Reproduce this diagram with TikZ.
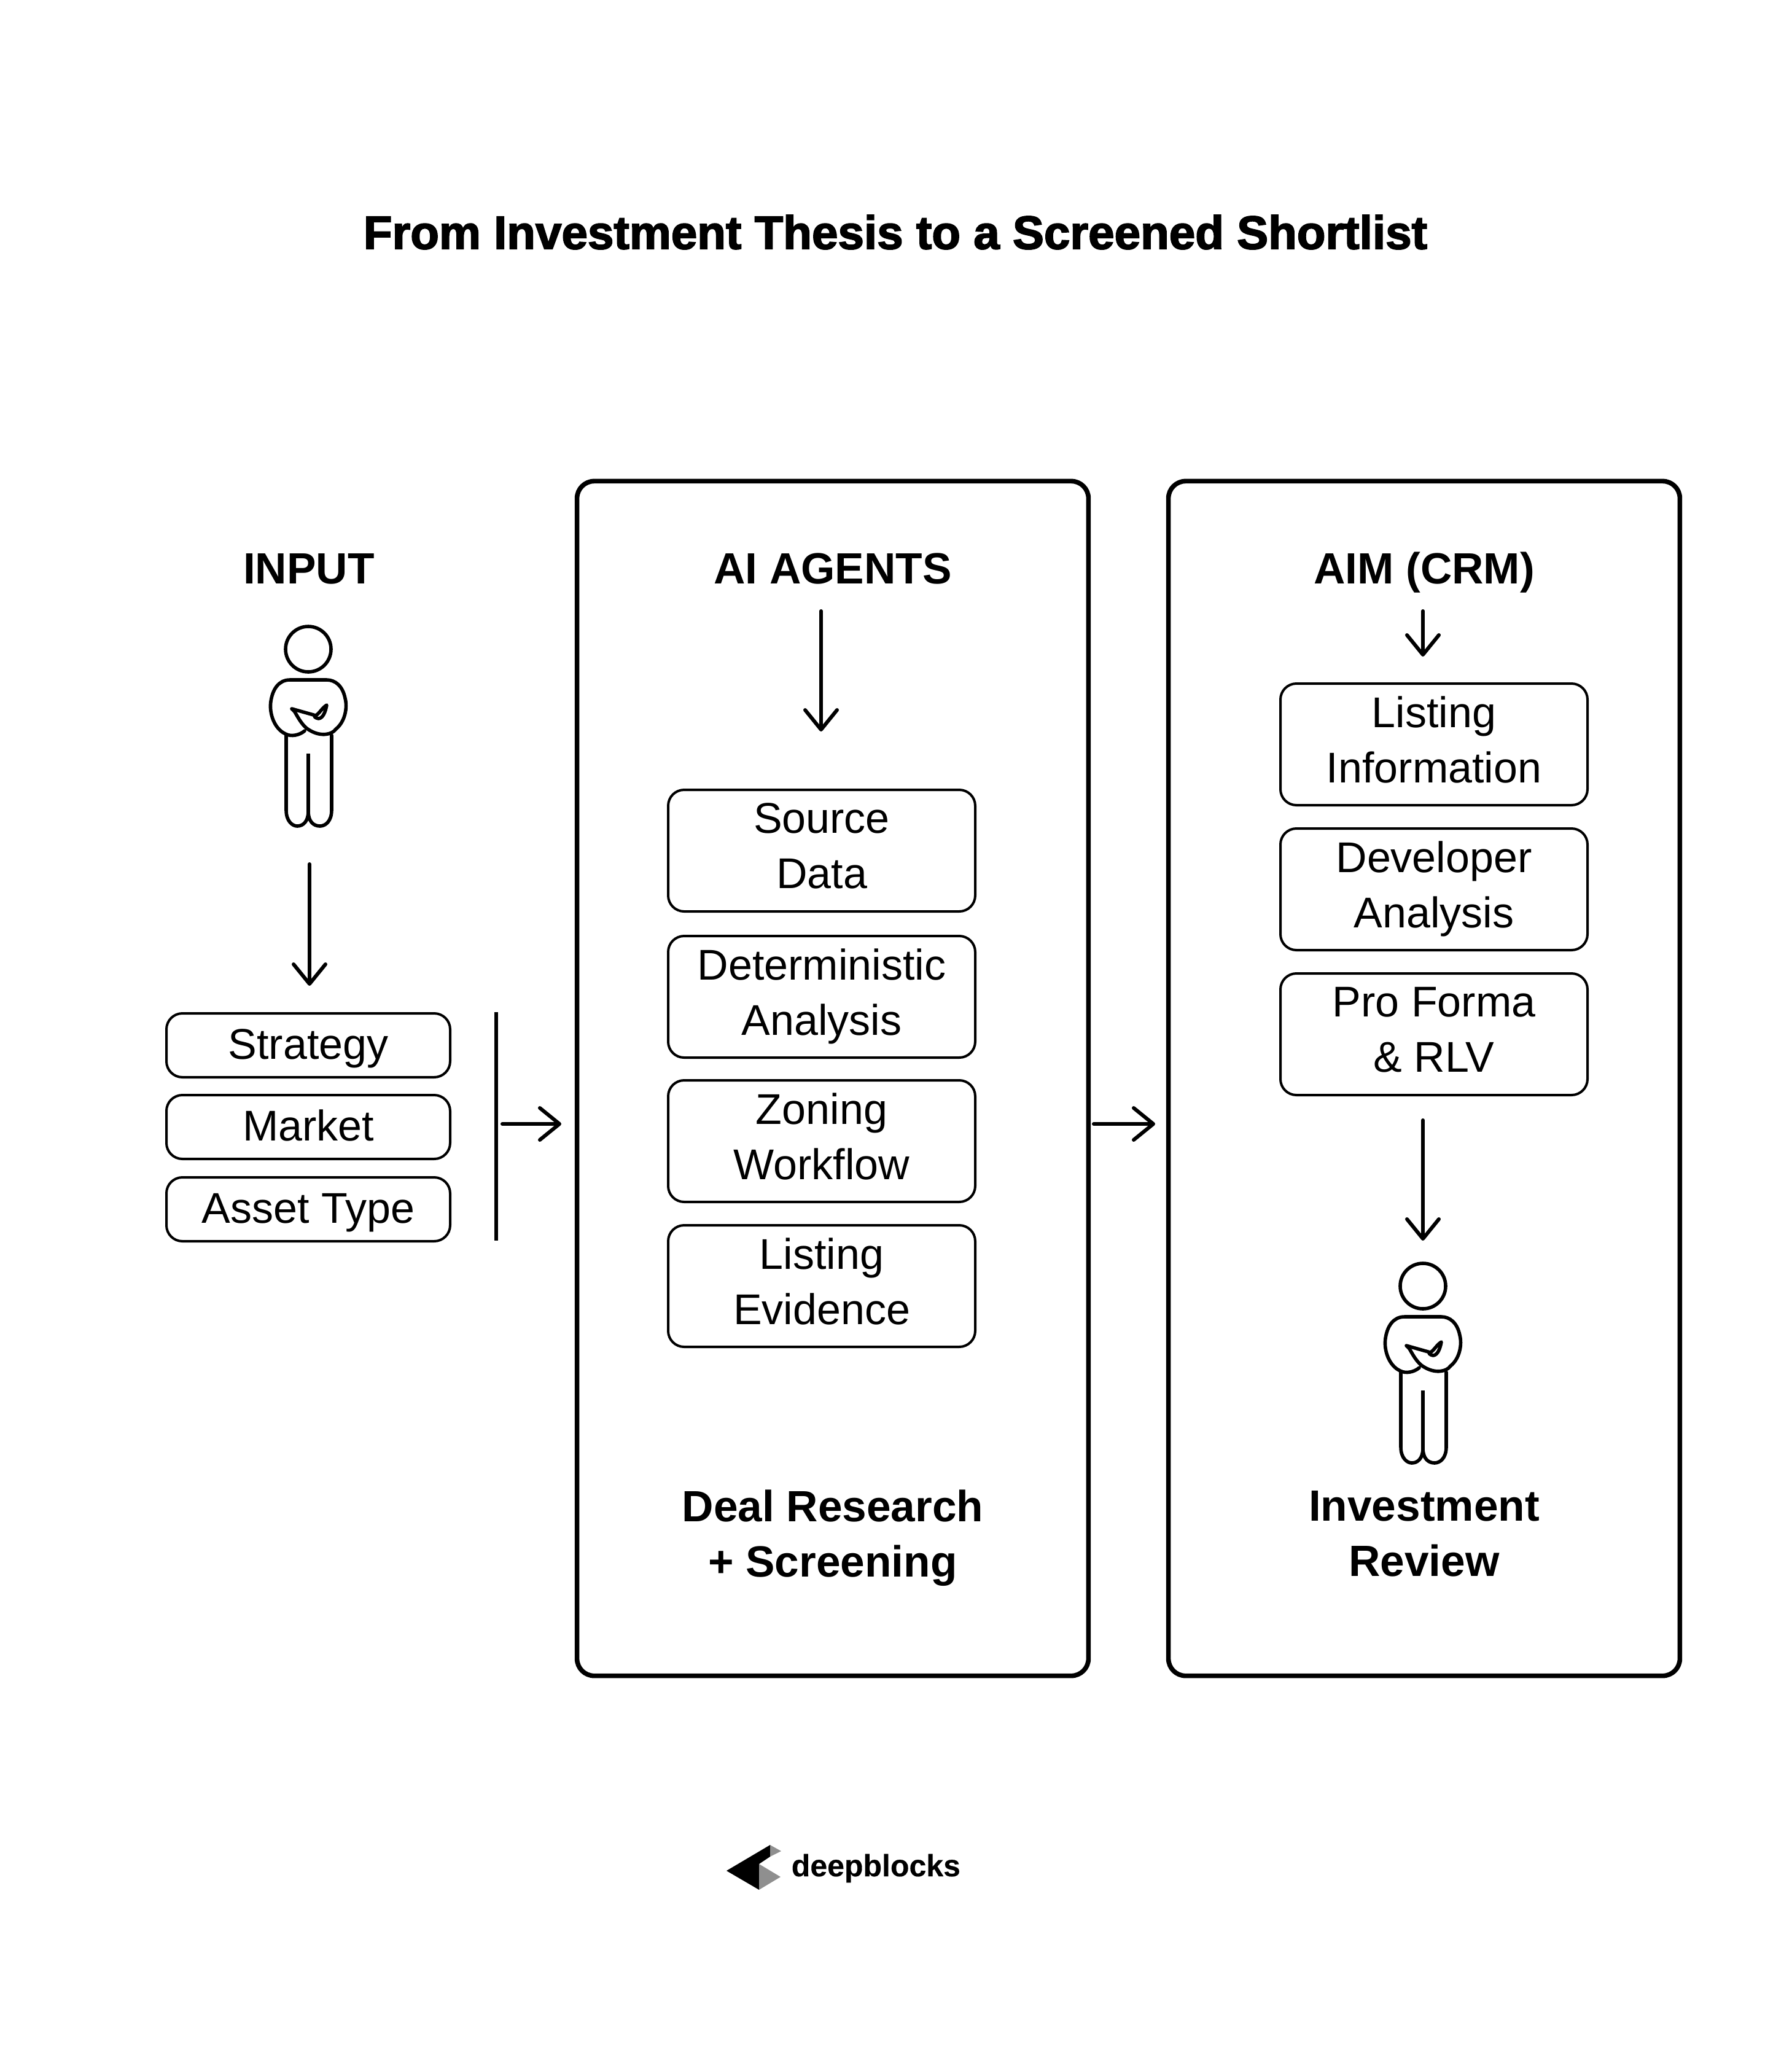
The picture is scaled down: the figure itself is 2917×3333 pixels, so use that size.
\documentclass[tikz,border=0pt]{standalone}
\usepackage{fontspec}
\setmainfont{Liberation Sans}
\newfontfamily\titlefont[FakeBold=2.4]{Liberation Sans Bold}
\newfontfamily\logofont[FakeBold=0.3]{Liberation Sans Bold}
\usetikzlibrary{positioning}
\usetikzlibrary{arrows.meta}
\definecolor{logogray}{rgb}{0.56, 0.56, 0.56}
\tikzset{
  evenline/.style={execute at begin node={\rule{0pt}{15pt}},execute at end node={\rule[-4pt]{0pt}{4pt}}},
  panelbox/.style={draw,line width=1.9pt,rounded corners=7pt,minimum width=208.2pt,minimum height=486.3pt,inner sep=0pt},
  itembox/.style={draw,line width=1pt,rounded corners=6.5pt,minimum width=125pt,minimum height=49.5pt,align=center,font=\fontsize{17.5}{22.5}\selectfont,inner sep=0pt,evenline},
  smallbox/.style={draw,line width=1pt,rounded corners=6.5pt,minimum width=115.5pt,minimum height=26pt,font=\fontsize{17.5}{22.5}\selectfont,inner sep=0pt,evenline},
  headlabel/.style={font=\fontsize{17.8}{22.5}\selectfont\bfseries,align=center,inner sep=0pt,evenline},
  flowarrow/.style={line width=1.5pt,line cap=round,-{Straight Barb[length=8pt,width=13pt,line width=1.5pt,round]}},
  person/.pic={
    \draw[line width=1.4pt] (0,0) circle[radius=37];
    \draw[line width=1.4pt,line join=round,line cap=round]
      (-22,102) .. controls (-12,120) and (-6,128) .. (4,133) .. controls (20,142) and (38,140) .. (45,130)
      .. controls (60,118) and (64,95) .. (60,80) .. controls (56,60) and (44,50) .. (30,50)
      -- (-30,50) .. controls (-48,50) and (-58,65) .. (-61,85) .. controls (-64,105) and (-55,130) .. (-37,138)
      .. controls (-28,143) and (-14,140) .. (-6,133);
    \draw[line width=1.4pt,line join=round,line cap=round]
      (-27,97) -- (12,108) .. controls (18,105) and (22,96) .. (30,91) .. controls (28,102) and (24,112) .. (17,113)
      .. controls (10,112) and (8,108) .. (12,108);
    \draw[line width=1.4pt,line join=round] (-27,97) -- (-22,102);
    \draw[line width=1.4pt,line cap=round]
      (-36,140) -- (-36,262) .. controls (-36,280) and (-26,288) .. (-18,288) .. controls (-8,288) and (0,280) .. (0,264)
      .. controls (0,280) and (8,288) .. (19,288) .. controls (28,288) and (38,280) .. (38,262) -- (38,140);
    \draw[line width=1.4pt] (0,170) -- (0,264);
  }
}

\begin{document}
\begin{tikzpicture}[x=0.25pt,y=-0.25pt]
\useasboundingbox (0,0) rectangle (2917,3333);

% title
\node[font=\titlefont\fontsize{19.1}{22}\selectfont,inner sep=0pt] (title) at (1458,378) {From Investment Thesis to a Screened Shortlist};

% panels
\node[panelbox] (aipanel) at (1356,1756) {};
\node[panelbox] (aimpanel) at (2319,1756) {};

% input column
\node[headlabel] (inputlabel) at (503,928) {INPUT};
\pic at (502,1057) {person};
\coordinate (inputtop) at (504,1407);
\coordinate (inputend) at (504,1605);
\draw[flowarrow] (inputtop) -- (inputend);
\node[smallbox] (strategy) at (502,1702) {Strategy};
\node[smallbox] (market) at (502,1835) {Market};
\node[smallbox] (assettype) at (502,1969) {Asset Type};
\coordinate (bartop) at (808,1648);
\coordinate (barbottom) at (808,2020);
\draw[line width=1.5pt] (bartop) -- (barbottom);
\coordinate (barout) at (818,1830);
\coordinate (barend) at (914,1830);
\draw[flowarrow] (barout) -- (barend);

% ai column
\node[headlabel] (ailabel) at (1356,928) {AI AGENTS};
\coordinate (aitop) at (1337,995);
\coordinate (aiend) at (1337,1191);
\draw[flowarrow] (aitop) -- (aiend);
\node[itembox] (source) at (1338,1385) {Source\\Data};
\node[itembox] (determ) at (1338,1623) {Deterministic\\Analysis};
\node[itembox] (zoning) at (1338,1858) {Zoning\\Workflow};
\node[itembox] (listing) at (1338,2094) {Listing\\Evidence};
\node[headlabel] (deallabel) at (1356,2505) {Deal Research\\+ Screening};

% link between panels
\coordinate (midout) at (1781,1830);
\coordinate (midend) at (1881,1830);
\draw[flowarrow] (midout) -- (midend);

% aim column
\node[headlabel] (aimlabel) at (2319,928) {AIM (CRM)};
\coordinate (aimtop) at (2317,995);
\coordinate (aimend) at (2317,1069);
\draw[flowarrow] (aimtop) -- (aimend);
\node[itembox] (listinfo) at (2335,1212) {Listing\\Information};
\node[itembox] (devel) at (2335,1448) {Developer\\Analysis};
\node[itembox] (proforma) at (2335,1684) {Pro Forma\\\& RLV};
\coordinate (reviewtop) at (2317,1824);
\coordinate (reviewend) at (2317,2020);
\draw[flowarrow] (reviewtop) -- (reviewend);
\pic at (2317,2094) {person};
\node[headlabel] (reviewlabel) at (2319,2505) {Investment\\Review};

% logo
\fill (1183,3046) -- (1254,3004) -- (1254,3023) -- (1236,3035) -- (1236,3077) -- cycle;
\fill[logogray] (1254,3004) -- (1272,3014) -- (1254,3023) -- cycle;
\fill[logogray] (1236,3035) -- (1271,3056) -- (1236,3077) -- cycle;
\node[font=\logofont\fontsize{12.5}{15}\selectfont,anchor=base west,inner sep=0pt] (logotext) at (1288,3055) {deepblocks};
\end{tikzpicture}
\end{document}
